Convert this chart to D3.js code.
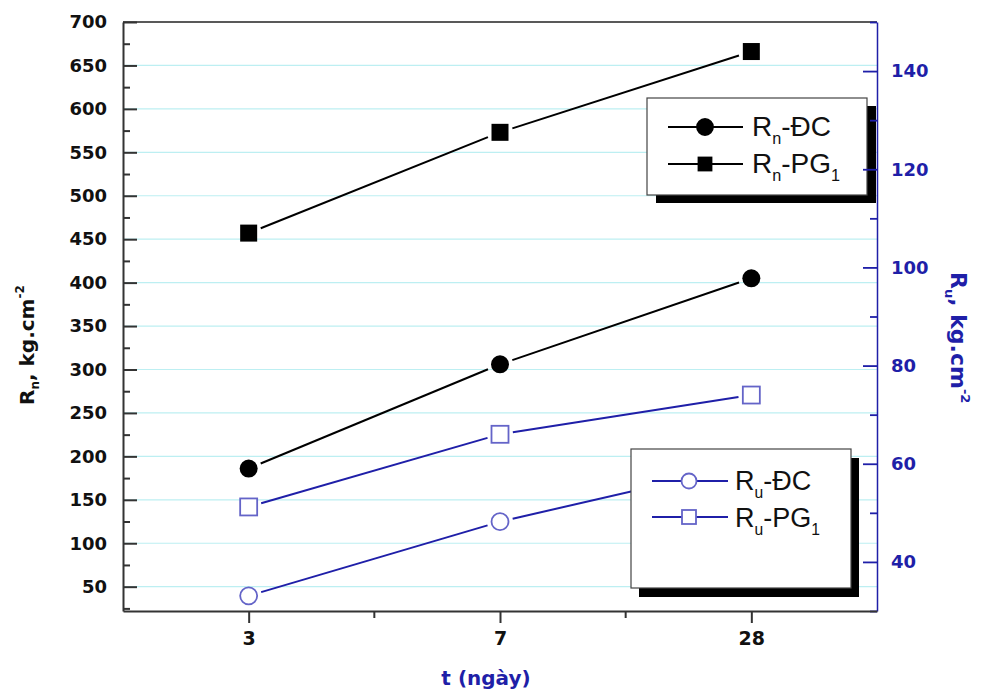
<!DOCTYPE html>
<html>
<head>
<meta charset="utf-8">
<script src="https://cdn.jsdelivr.net/npm/d3@7"></script>
<style>
  html, body { margin: 0; padding: 0; background: #fff; }
  svg { display: block; font-family: "Liberation Sans", Arial, sans-serif; }
</style>
</head>
<body>
<svg id="chart" width="983" height="694"></svg>
<script>
// ---- data ----
const categories = ["3", "7", "28"];
const rnDC = [186, 306, 405];      // R_n - ĐC (left axis)
const rnPG = [457, 573, 666];      // R_n - PG1 (left axis)
const ruDC = [33.1, 48.2, 60];     // R_u - ĐC (right axis)
const ruPG = [51.2, 66, 74];       // R_u - PG1 (right axis)
const leftTicks = [50, 100, 150, 200, 250, 300, 350, 400, 450, 500, 550, 600, 650, 700];
const leftMinor = [25, 75, 125, 175, 225, 275, 325, 375, 425, 475, 525, 575, 625, 675];
const rightTicks = [40, 60, 80, 100, 120, 140];
const rightMinor = [30, 50, 70, 90, 110, 130, 150];

const BLUE = "#1f1fa8";
const MARK_BLUE = "#6464c8";
const TICK_FONT = "DejaVu Sans, Verdana, sans-serif";

const svg = d3.select("#chart");
const L = 123, R = 877, T = 22, B = 611;

const x = d3.scalePoint().domain(categories).range([L, R]).padding(0.5);
const yL = d3.scaleLinear().domain([22, 700]).range([B, T]);
const yR = d3.scaleLinear().domain([30, 150]).range([B, T]);

// grid lines
svg.append("g").selectAll("line").data(leftTicks.filter(d => d < 700)).join("line")
  .attr("x1", L).attr("x2", R)
  .attr("y1", d => yL(d)).attr("y2", d => yL(d))
  .attr("stroke", "#bdeff2").attr("stroke-width", 1.2);

// series drawing helper: segments shortened so they stop before markers
function drawSeries(values, y, color, width, gap) {
  const pts = values.map((v, i) => [x(categories[i]), y(v)]);
  const g = svg.append("g");
  for (let i = 0; i < pts.length - 1; i++) {
    const [x1, y1] = pts[i], [x2, y2] = pts[i + 1];
    const len = Math.hypot(x2 - x1, y2 - y1);
    const ux = (x2 - x1) / len, uy = (y2 - y1) / len;
    g.append("line")
      .attr("x1", x1 + ux * gap).attr("y1", y1 + uy * gap)
      .attr("x2", x2 - ux * gap).attr("y2", y2 - uy * gap)
      .attr("stroke", color).attr("stroke-width", width);
  }
  return pts;
}

const ptsRnDC = drawSeries(rnDC, yL, "#000", 2, 13);
const ptsRnPG = drawSeries(rnPG, yL, "#000", 2, 13);
const ptsRuDC = drawSeries(ruDC, yR, BLUE, 2, 13);
const ptsRuPG = drawSeries(ruPG, yR, BLUE, 2, 13);

svg.append("g").selectAll("circle").data(ptsRnDC).join("circle")
  .attr("cx", d => d[0]).attr("cy", d => d[1]).attr("r", 9).attr("fill", "#000");
svg.append("g").selectAll("rect").data(ptsRnPG).join("rect")
  .attr("x", d => d[0] - 8.5).attr("y", d => d[1] - 8.5)
  .attr("width", 17).attr("height", 17).attr("fill", "#000");
svg.append("g").selectAll("circle").data(ptsRuDC).join("circle")
  .attr("cx", d => d[0]).attr("cy", d => d[1]).attr("r", 8.5)
  .attr("fill", "#fff").attr("stroke", MARK_BLUE).attr("stroke-width", 1.8);
svg.append("g").selectAll("rect").data(ptsRuPG).join("rect")
  .attr("x", d => d[0] - 8.5).attr("y", d => d[1] - 8.5)
  .attr("width", 17).attr("height", 17)
  .attr("fill", "#fff").attr("stroke", MARK_BLUE).attr("stroke-width", 1.8);

// legends
function legend(box, shadow, rows, fontSize, lineColor, markColor) {
  const g = svg.append("g");
  g.append("rect").attr("x", box.x + shadow.dx).attr("y", box.y + shadow.dy)
    .attr("width", box.w).attr("height", box.h).attr("fill", "#000");
  g.append("rect").attr("x", box.x).attr("y", box.y)
    .attr("width", box.w).attr("height", box.h)
    .attr("fill", "#fff").attr("stroke", "#444").attr("stroke-width", 1.2);
  rows.forEach(r => {
    g.append("line").attr("x1", r.lx1).attr("x2", r.lx2).attr("y1", r.cy).attr("y2", r.cy)
      .attr("stroke", lineColor).attr("stroke-width", 1.8);
    if (r.shape === "circle") {
      g.append("circle").attr("cx", r.mx).attr("cy", r.cy).attr("r", r.size)
        .attr("fill", r.filled ? "#000" : "#fff")
        .attr("stroke", r.filled ? "#000" : markColor).attr("stroke-width", 1.8);
    } else {
      g.append("rect").attr("x", r.mx - r.size).attr("y", r.cy - r.size)
        .attr("width", r.size * 2).attr("height", r.size * 2)
        .attr("fill", r.filled ? "#000" : "#fff")
        .attr("stroke", r.filled ? "#000" : markColor).attr("stroke-width", 1.8);
    }
    const t = g.append("text").attr("x", r.tx).attr("y", r.base)
      .attr("font-size", fontSize).attr("fill", "#111");
    r.parts.forEach(p => {
      const ts = t.append("tspan").text(p.t);
      if (p.sub) ts.attr("font-size", fontSize * 0.58).attr("dy", fontSize * 0.28);
      else if (p.after) ts.attr("dy", -fontSize * 0.28);
    });
  });
}

legend({x: 647, y: 98, w: 220, h: 97}, {dx: 9, dy: 8}, [
  {lx1: 668, lx2: 743, mx: 705, cy: 127, shape: "circle", size: 8, filled: true, tx: 752, base: 136,
   parts: [{t: "R"}, {t: "n", sub: true}, {t: "-ĐC", after: true}]},
  {lx1: 668, lx2: 743, mx: 705, cy: 164, shape: "rect", size: 6.5, filled: true, tx: 752, base: 173,
   parts: [{t: "R"}, {t: "n", sub: true}, {t: "-PG", after: true}, {t: "1", sub: true}]}
], 28, "#000", "#000");

legend({x: 631, y: 449, w: 220, h: 139}, {dx: 8, dy: 9}, [
  {lx1: 652, lx2: 728, mx: 689, cy: 481, shape: "circle", size: 7.5, filled: false, tx: 735, base: 490,
   parts: [{t: "R"}, {t: "u", sub: true}, {t: "-ĐC", after: true}]},
  {lx1: 652, lx2: 728, mx: 689, cy: 517, shape: "rect", size: 7, filled: false, tx: 735, base: 527,
   parts: [{t: "R"}, {t: "u", sub: true}, {t: "-PG", after: true}, {t: "1", sub: true}]}
], 27, BLUE, MARK_BLUE);

// top border
svg.append("line").attr("x1", L).attr("x2", R).attr("y1", T).attr("y2", T)
  .attr("stroke", "#222").attr("stroke-width", 1.5);

// left axis
const gL = svg.append("g").attr("transform", `translate(${L},0)`)
  .call(d3.axisLeft(yL).tickValues(leftTicks).tickSizeInner(-14).tickSizeOuter(0).tickPadding(16));
gL.select(".domain").attr("stroke", "#333").attr("stroke-width", 2);
gL.selectAll(".tick line").attr("stroke", "#333").attr("stroke-width", 2);
gL.selectAll(".tick text").attr("font-size", 18).attr("font-weight", "bold").attr("fill", "#111")
  .attr("font-family", TICK_FONT);
svg.append("g").attr("transform", `translate(${L},0)`)
  .call(d3.axisLeft(yL).tickValues(leftMinor.filter(d => d > 22)).tickSize(-7).tickFormat(""))
  .call(g => g.select(".domain").remove())
  .selectAll(".tick line").attr("stroke", "#333").attr("stroke-width", 2);

// right axis
const gR = svg.append("g").attr("transform", `translate(${R},0)`)
  .call(d3.axisRight(yR).tickValues(rightTicks).tickSizeInner(-14).tickSizeOuter(0).tickPadding(14));
gR.select(".domain").attr("stroke", BLUE).attr("stroke-width", 1.5);
gR.selectAll(".tick line").attr("stroke", BLUE).attr("stroke-width", 1.8);
gR.selectAll(".tick text").attr("font-size", 18).attr("font-weight", "bold").attr("fill", BLUE)
  .attr("font-family", TICK_FONT);
svg.append("g").attr("transform", `translate(${R},0)`)
  .call(d3.axisRight(yR).tickValues(rightMinor).tickSize(-7).tickFormat(""))
  .call(g => g.select(".domain").remove())
  .selectAll(".tick line").attr("stroke", BLUE).attr("stroke-width", 1.8);

// bottom axis
const gB = svg.append("g").attr("transform", `translate(0,${B})`)
  .call(d3.axisBottom(x).tickSizeInner(12).tickSizeOuter(0).tickPadding(9));
gB.select(".domain").attr("stroke", "#333").attr("stroke-width", 2);
gB.selectAll(".tick line").attr("stroke", "#333").attr("stroke-width", 2);
gB.selectAll(".tick text").attr("font-size", 19).attr("font-weight", "bold").attr("fill", "#111")
  .attr("font-family", TICK_FONT);
const step = x.step();
svg.append("g").selectAll("line").data(categories.slice(0, -1)).join("line")
  .attr("x1", d => x(d) + step / 2).attr("x2", d => x(d) + step / 2)
  .attr("y1", B).attr("y2", B + 7).attr("stroke", "#333").attr("stroke-width", 2);

// axis titles
const tl = svg.append("text").attr("transform", "translate(34,405) rotate(-90)")
  .attr("text-anchor", "start").attr("font-size", 20).attr("font-weight", "bold")
  .attr("font-family", TICK_FONT).attr("fill", "#111");
tl.append("tspan").text("R");
tl.append("tspan").text("n").attr("font-size", 12).attr("dy", 5);
tl.append("tspan").text(", kg.cm").attr("dy", -5);
tl.append("tspan").text("-2").attr("font-size", 12).attr("dy", -10);

const tr = svg.append("text").attr("transform", "translate(951,272) rotate(90)")
  .attr("text-anchor", "start").attr("font-size", 22).attr("font-weight", "bold")
  .attr("font-family", TICK_FONT).attr("fill", BLUE);
tr.append("tspan").text("R");
tr.append("tspan").text("u").attr("font-size", 13).attr("dy", 6);
tr.append("tspan").text(", kg.cm").attr("dy", -6);
tr.append("tspan").text("-2").attr("font-size", 13).attr("dy", -10);

svg.append("text").attr("x", 486).attr("y", 685).attr("text-anchor", "middle")
  .attr("font-size", 20).attr("font-weight", "bold").attr("font-family", TICK_FONT)
  .attr("fill", BLUE).text("t (ngày)");
</script>
</body>
</html>
